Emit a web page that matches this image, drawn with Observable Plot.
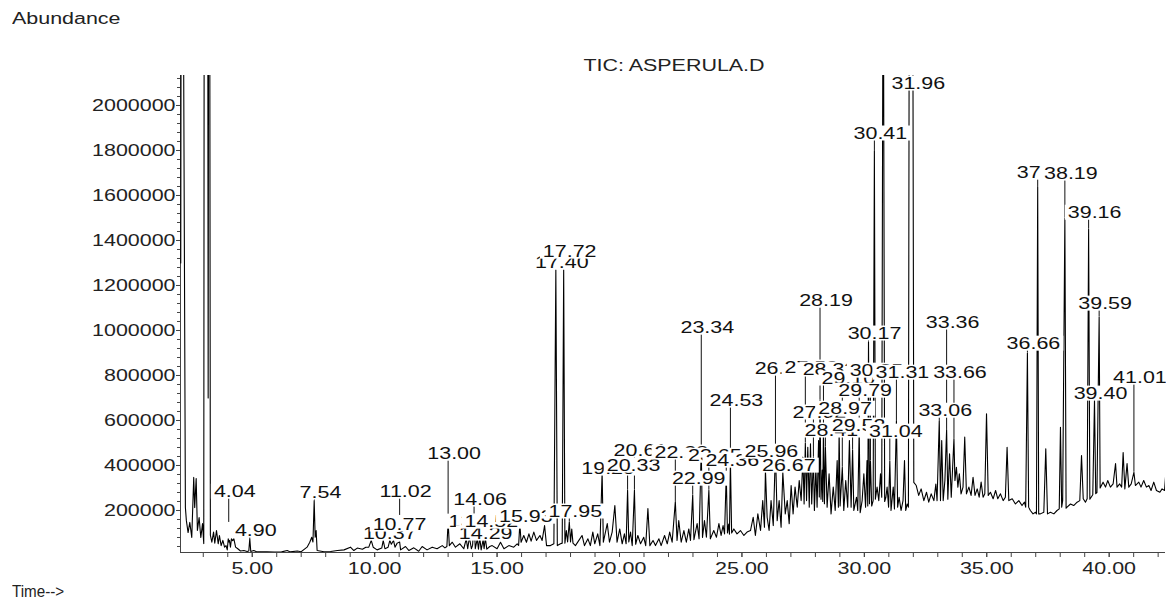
<!DOCTYPE html>
<html><head><meta charset="utf-8">
<script src="https://cdn.jsdelivr.net/npm/d3@7"></script>
<script src="https://cdn.jsdelivr.net/npm/@observablehq/plot@0.6"></script>
<style>
body{margin:0;background:#fff;}
#wrap{position:relative;width:1166px;height:599px;font-family:"Liberation Sans",Arial,sans-serif;color:#222;overflow:hidden;}
#wrap svg{position:absolute;left:0;top:0;}
.t{position:absolute;font-size:16px;line-height:16px;white-space:nowrap;transform-origin:0 50%;transform:scaleX(1.34);z-index:2;}
#ti{transform-origin:50% 50%;transform:translateX(-50%) scaleX(1.34);}
#tm{transform:scaleX(0.95);}
</style></head><body>
<div id="wrap">
<div class="t" id="ab" style="left:12px;top:11px">Abundance</div>
<div class="t" id="ti" style="left:674px;top:58px">TIC: ASPERULA.D</div>
<div class="t" id="tm" style="left:12px;top:584px">Time--&gt;</div>
</div>
<script>
// ---- trace (retention time in min, abundance) ----
const traceTime = [2.08,2.10,2.17,2.27,2.31,2.38,2.45,2.53,2.61,2.65,2.71,2.76,2.83,2.90,2.97,3.02,3.04,3.18,3.20,3.22,3.26,3.29,3.35,3.42,3.47,3.54,3.61,3.66,3.73,3.80,3.87,3.93,3.98,4.02,4.05,4.07,4.11,4.15,4.20,4.25,4.32,4.41,4.52,4.66,4.79,4.86,4.90,4.94,5.06,5.20,5.34,5.60,5.90,6.20,6.43,6.55,6.84,7.00,7.24,7.35,7.43,7.48,7.53,7.57,7.61,7.65,7.93,8.20,8.48,8.75,9.01,9.15,9.29,9.50,9.64,9.76,9.86,9.94,10.10,10.29,10.35,10.42,10.55,10.62,10.68,10.77,10.83,10.92,11.02,11.06,11.26,11.40,11.60,11.80,11.94,12.14,12.35,12.55,12.76,12.87,12.95,13.00,13.05,13.17,13.30,13.48,13.64,13.74,13.80,13.87,13.95,14.00,14.06,14.11,14.19,14.24,14.29,14.35,14.43,14.47,14.52,14.58,14.70,14.80,15.00,15.14,15.28,15.48,15.68,15.82,15.88,15.93,15.98,16.09,16.20,16.30,16.39,16.50,16.61,16.75,16.84,16.94,17.02,17.18,17.32,17.40,17.46,17.59,17.66,17.72,17.77,17.83,17.88,17.95,18.00,18.05,18.10,18.20,18.34,18.47,18.57,18.71,18.81,18.91,18.99,19.11,19.20,19.29,19.34,19.50,19.59,19.70,19.81,19.90,20.01,20.11,20.20,20.27,20.33,20.38,20.45,20.52,20.61,20.66,20.75,20.86,20.99,21.07,21.16,21.24,21.37,21.47,21.61,21.70,21.84,21.95,22.05,22.15,22.28,22.35,22.42,22.52,22.63,22.73,22.83,22.90,22.99,23.04,23.17,23.25,23.34,23.39,23.47,23.55,23.65,23.71,23.85,23.96,24.06,24.15,24.23,24.29,24.36,24.41,24.46,24.49,24.53,24.58,24.67,24.80,24.94,25.08,25.21,25.35,25.46,25.55,25.65,25.76,25.85,25.92,25.96,26.03,26.11,26.19,26.28,26.37,26.44,26.52,26.60,26.67,26.77,26.85,26.93,27.01,27.09,27.17,27.26,27.34,27.42,27.49,27.54,27.59,27.64,27.69,27.75,27.80,27.85,27.92,27.96,28.02,28.07,28.13,28.16,28.19,28.23,28.28,28.30,28.33,28.37,28.41,28.48,28.56,28.64,28.73,28.81,28.89,28.94,28.97,29.01,29.10,29.16,29.24,29.32,29.39,29.46,29.52,29.57,29.68,29.73,29.79,29.83,29.91,29.98,30.05,30.11,30.14,30.17,30.21,30.25,30.30,30.36,30.41,30.45,30.52,30.59,30.66,30.71,30.77,30.83,30.88,30.93,30.99,31.04,31.09,31.18,31.23,31.31,31.36,31.42,31.50,31.58,31.64,31.69,31.75,31.80,31.84,31.97,32.02,32.12,32.22,32.32,32.43,32.54,32.63,32.73,32.84,32.92,32.97,33.06,33.11,33.16,33.22,33.29,33.36,33.41,33.48,33.55,33.66,33.70,33.76,33.82,33.88,33.95,34.03,34.10,34.17,34.27,34.36,34.44,34.52,34.61,34.69,34.77,34.85,34.92,34.99,35.06,35.15,35.26,35.36,35.45,35.56,35.67,35.76,35.83,35.90,36.04,36.17,36.31,36.44,36.54,36.59,36.66,36.71,36.78,36.89,36.99,37.03,37.08,37.12,37.19,37.33,37.41,37.48,37.60,37.74,37.87,37.96,38.01,38.06,38.10,38.19,38.24,38.28,38.42,38.55,38.69,38.80,38.87,38.94,39.03,39.10,39.16,39.21,39.27,39.33,39.40,39.45,39.50,39.59,39.63,39.75,39.85,39.94,40.05,40.16,40.26,40.32,40.43,40.51,40.57,40.64,40.73,40.80,40.90,41.01,41.07,41.21,41.30,41.41,41.52,41.62,41.71,41.82,41.93,42.07,42.16,42.26,42.31];
const traceAbund = [1300000,3000000,3000000,213000,155000,102000,147000,80000,347000,213000,342000,111000,169000,80000,142000,53000,3000000,3000000,700000,3000000,3000000,90000,59000,104000,55000,111000,52000,89000,44000,67000,37000,44000,25000,74000,60000,67000,37000,74000,66000,74000,37000,30000,20000,22000,18000,20000,75000,18000,22000,16000,17000,16000,15000,16000,22000,16000,20000,17000,37000,59000,81000,60000,244000,81000,111000,22000,17000,18000,22000,25000,37000,22000,33000,28000,37000,37000,67000,37000,25000,33000,67000,30000,37000,67000,50000,67000,37000,55000,60000,25000,40000,22000,34000,19000,40000,25000,37000,30000,44000,34000,40000,150000,44000,59000,37000,52000,30000,74000,30000,81000,30000,45000,160000,30000,74000,28000,81000,25000,70000,30000,78000,28000,40000,44000,30000,59000,30000,44000,37000,52000,45000,142000,59000,89000,59000,96000,64000,104000,67000,89000,67000,133000,44000,44000,52000,1270000,44000,52000,55000,1270000,55000,111000,60000,150000,60000,118000,55000,44000,67000,89000,44000,74000,44000,104000,52000,96000,44000,370000,59000,142000,59000,104000,222000,59000,118000,52000,96000,52000,290000,60000,104000,44000,290000,50000,89000,52000,81000,44000,209000,44000,67000,44000,74000,44000,89000,52000,104000,59000,240000,67000,155000,59000,111000,59000,118000,67000,270000,70000,142000,74000,480000,80000,155000,81000,290000,74000,111000,81000,142000,89000,133000,96000,360000,100000,140000,95000,420000,100000,118000,96000,111000,89000,104000,111000,170000,89000,185000,111000,244000,126000,380000,170000,111000,244000,133000,470000,155000,244000,126000,370000,185000,244000,141000,311000,185000,304000,215000,333000,244000,437000,229000,500000,244000,481000,215000,496000,229000,437000,200000,392000,215000,511000,260000,690000,250000,380000,240000,560000,230000,481000,215000,363000,185000,304000,200000,422000,215000,560000,220000,392000,200000,333000,215000,511000,215000,470000,200000,259000,200000,560000,190000,244000,363000,215000,422000,220000,950000,230000,420000,220000,244000,1800000,250000,304000,244000,363000,259000,3000000,240000,259000,304000,215000,420000,200000,304000,207000,600000,215000,259000,200000,244000,422000,200000,229000,215000,3000000,3000000,325000,311000,267000,296000,244000,281000,237000,274000,244000,318000,244000,600000,244000,511000,244000,333000,560000,250000,452000,259000,520000,333000,392000,304000,363000,274000,304000,526000,274000,304000,267000,348000,267000,296000,259000,326000,259000,274000,630000,267000,281000,252000,289000,252000,274000,244000,259000,481000,244000,252000,229000,244000,222000,237000,215000,900000,215000,200000,185000,192000,185000,1640000,185000,185000,192000,474000,185000,192000,185000,200000,207000,570000,215000,244000,1500000,210000,215000,229000,222000,237000,244000,444000,252000,237000,252000,1450000,250000,260000,270000,690000,275000,280000,1060000,300000,326000,304000,333000,304000,318000,409000,304000,318000,304000,458000,296000,409000,304000,318000,370000,311000,326000,304000,333000,304000,311000,289000,326000,289000,281000,296000,289000,363000];

// ---- peak labels ----
const labelTime = [4.04,4.90,7.54,10.37,10.77,11.02,13.00,13.87,14.06,14.29,14.52,15.93,17.40,17.72,17.95,19.29,20.33,20.61,22.28,22.99,23.34,23.65,24.36,24.53,25.96,26.37,26.67,27.59,27.92,28.19,28.33,28.41,28.97,29.10,29.52,29.79,30.17,30.25,30.41,31.04,31.31,31.96,33.06,33.36,33.66,36.66,37.08,38.19,39.16,39.40,39.59,41.01];
const labelText = ["4.04","4.90","7.54","10.37","10.77","11.02","13.00","13.87","14.06","14.29","14.52","15.93","17.40","17.72","17.95","19.29","20.33","20.61","22.28","22.99","23.34","23.65","24.36","24.53","25.96","26.37","26.67","27.59","27.92","28.19","28.33","28.41","28.97","29.10","29.52","29.79","30.17","30.25","30.41","31.04","31.31","31.96","33.06","33.36","33.66","36.66","37.08","38.19","39.16","39.40","39.59","41.01"];
const labelAbund = [284000,111000,280000,98000,138000,284000,453000,151000,249000,98000,151000,173000,1302000,1351000,196000,387000,400000,467000,458000,342000,1013000,444000,422000,689000,462000,831000,400000,836000,636000,1133000,827000,556000,653000,787000,578000,733000,987000,822000,1876000,551000,813000,2098000,644000,1036000,813000,942000,1702000,1698000,1524000,720000,1120000,791000];
const leaderEnd = [147000,75000,244000,67000,67000,178000,150000,81000,160000,81000,78000,142000,1270000,1270000,150000,370000,290000,290000,240000,270000,480000,290000,360000,420000,380000,470000,370000,500000,437000,690000,560000,481000,560000,392000,470000,560000,950000,420000,1800000,420000,600000,2098000,600000,560000,520000,900000,1640000,1500000,1450000,690000,1060000,370000];

// ---- axes ----
const xDomain = [2.07, 42.3];
const yDomain = [13333, 2133333];
const xMajor = [5, 10, 15, 20, 25, 30, 35, 40];
const xMinor = [3,4,5,6,7,8,9,10,11,12,13,14,15,16,17,18,19,20,21,22,23,24,25,26,27,28,29,30,31,32,33,34,35,36,37,38,39,40,41,42];
const yMajor = [200000,400000,600000,800000,1000000,1200000,1400000,1600000,1800000,2000000];
const yMinor = d3.range(40000, 2133334, 40000);

const trace = traceTime.map((t, i) => ({t, v: traceAbund[i]}));
const labels = labelTime.map((t, i) => ({t, text: labelText[i], v: labelAbund[i], end: leaderEnd[i]}));

const axisColor = "#444";
const chart = Plot.plot({
  width: 1166, height: 599,
  marginLeft: 180, marginRight: 1, marginTop: 75, marginBottom: 47,
  x: {domain: xDomain},
  y: {domain: yDomain},
  style: {fontFamily: '"Liberation Sans", Arial, sans-serif', fontSize: "16px", color: "#222", background: "white", overflow: "visible"},
  marks: [
    Plot.axisY(yMinor, {tickSize: 3, tickFormat: () => "", stroke: axisColor, label: null}),
    Plot.axisY(yMajor, {tickSize: 4, tickPadding: 1, tickFormat: d => String(d), fontSize: 16, stroke: axisColor, fill: "#222", label: null}),
    Plot.axisX(xMinor, {tickSize: 5, tickFormat: () => "", stroke: axisColor, label: null}),
    Plot.axisX(xMajor, {tickSize: 5, tickPadding: 5, tickFormat: d => d.toFixed(2), fontSize: 16, stroke: axisColor, fill: "#222", label: null}),
    Plot.ruleX([xDomain[0]], {stroke: axisColor}),
    Plot.ruleY([yDomain[0]], {stroke: axisColor}),
    Plot.line(trace, {x: "t", y: "v", stroke: "#000", strokeWidth: 1.1, clip: true}),
    Plot.ruleX(labels, {x: "t", y1: "v", y2: "end", stroke: "#111", strokeWidth: 1, clip: true}),
    Plot.text(labels, {x: "t", y: "v", text: "text", dx: 6, fontSize: 16, fill: "#111"})
  ]
});
document.getElementById("wrap").appendChild(chart);

// stretch all SVG text horizontally like the instrument font
const S = 1.34;
chart.querySelectorAll("text").forEach(t => {
  const L = t.getComputedTextLength();
  if (L > 0) {
    t.setAttribute("textLength", (L * S).toFixed(2));
    t.setAttribute("lengthAdjust", "spacingAndGlyphs");
  }
});
// white boxes behind peak labels (later labels cover earlier ones)
const ns = "http://www.w3.org/2000/svg";
chart.querySelectorAll('g[aria-label="text"]').forEach(g => {
  g.querySelectorAll("text").forEach(t => {
    const b = t.getBBox();
    const r = document.createElementNS(ns, "rect");
    r.setAttribute("x", b.x - 3);
    r.setAttribute("y", b.y + 1);
    r.setAttribute("width", b.width + 6);
    r.setAttribute("height", b.height - 2);
    r.setAttribute("fill", "white");
    r.setAttribute("stroke", "none");
    const tr = t.getAttribute("transform");
    if (tr) r.setAttribute("transform", tr);
    g.insertBefore(r, t);
  });
});
</script>
</body></html>
